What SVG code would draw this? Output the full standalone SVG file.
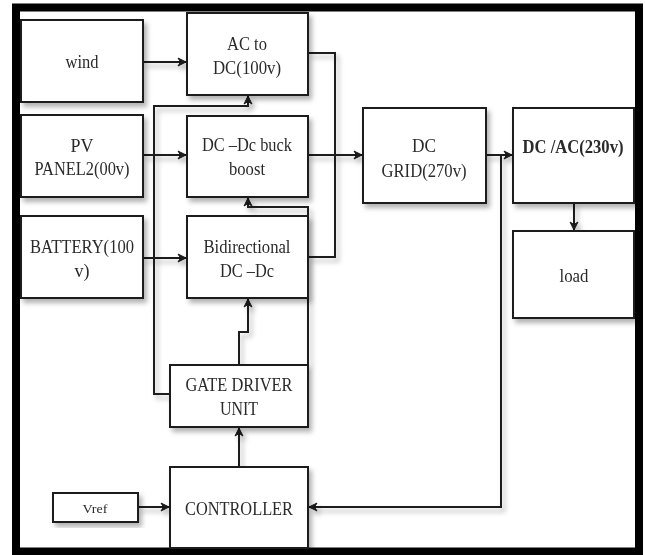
<svg xmlns="http://www.w3.org/2000/svg" width="645" height="555" viewBox="0 0 645 555">
<defs>
<style>
.box{fill:#fff;stroke:#1a1a1a;stroke-width:2}
.t{font-family:"Liberation Serif","Times New Roman",serif;font-size:18px;fill:#2a2a2a;text-anchor:middle}
.c{fill:none;stroke:#1a1a1a;stroke-width:2}
</style>
<filter id="sh" x="-10%" y="-10%" width="130%" height="130%">
<feDropShadow dx="3" dy="4" stdDeviation="2.5" flood-color="#000" flood-opacity="0.3"/>
</filter>
<marker id="a" viewBox="0 0 10 10" refX="9" refY="5" markerWidth="10" markerHeight="10" markerUnits="userSpaceOnUse" orient="auto">
<path d="M1,1 L9,5 L1,9 L3.5,5 z" fill="#1a1a1a" stroke="#1a1a1a" stroke-width="1" stroke-linejoin="round"/>
</marker>
</defs>
<rect x="0" y="0" width="645" height="555" fill="#fff"/>
<rect x="16" y="7.5" width="623" height="544" fill="#fff" stroke="#000" stroke-width="8"/>

<g id="connectors" filter="url(#sh)">
<path class="c" d="M143,62 H186" marker-end="url(#a)"/>
<path class="c" d="M143,155 H186" marker-end="url(#a)"/>
<path class="c" d="M143,258 H186" marker-end="url(#a)"/>
<path class="c" d="M308,53 H335 V257 H308"/>
<path class="c" d="M308,155 H362" marker-end="url(#a)"/>
<path class="c" d="M486,155 H512" marker-end="url(#a)"/>
<path class="c" d="M501,155 V507 H309" marker-end="url(#a)"/>
<path class="c" d="M574,203 V230" marker-end="url(#a)"/>
<path class="c" d="M138,507 H169" marker-end="url(#a)"/>
<path class="c" d="M239,467 V428" marker-end="url(#a)"/>
<path class="c" d="M239,365 V332 H248 V299" marker-end="url(#a)"/>
<path class="c" d="M170,394 H154 V106 H248 V96" marker-end="url(#a)"/>
<path class="c" d="M308,365 V207 H248 V198" marker-end="url(#a)"/>
</g>

<g id="wind" filter="url(#sh)"><rect class="box" x="21" y="20" width="122" height="82"/><text class="t" x="82" y="68" textLength="33" lengthAdjust="spacingAndGlyphs">wind</text></g>
<g id="pv" filter="url(#sh)"><rect class="box" x="21" y="115" width="122" height="82"/><text class="t" x="82" y="152" textLength="23" lengthAdjust="spacingAndGlyphs">PV</text><text class="t" x="82" y="175" textLength="95" lengthAdjust="spacingAndGlyphs">PANEL2(00v)</text></g>
<g id="battery" filter="url(#sh)"><rect class="box" x="21" y="216" width="122" height="82"/><text class="t" x="82" y="253" textLength="104" lengthAdjust="spacingAndGlyphs">BATTERY(100</text><text class="t" x="82" y="277" textLength="15" lengthAdjust="spacingAndGlyphs">v)</text></g>
<g id="acdc" filter="url(#sh)"><rect class="box" x="187" y="13" width="121" height="82"/><text class="t" x="247" y="50" textLength="40" lengthAdjust="spacingAndGlyphs">AC to</text><text class="t" x="247" y="74" textLength="68" lengthAdjust="spacingAndGlyphs">DC(100v)</text></g>
<g id="buckboost" filter="url(#sh)"><rect class="box" x="187" y="116" width="121" height="81"/><text class="t" x="247" y="151" textLength="90" lengthAdjust="spacingAndGlyphs">DC –Dc buck</text><text class="t" x="247" y="175" textLength="36" lengthAdjust="spacingAndGlyphs">boost</text></g>
<g id="bidir" filter="url(#sh)"><rect class="box" x="187" y="216" width="121" height="82"/><text class="t" x="247" y="253" textLength="87" lengthAdjust="spacingAndGlyphs">Bidirectional</text><text class="t" x="247" y="277" textLength="54" lengthAdjust="spacingAndGlyphs">DC –Dc</text></g>
<g id="gatedriver" filter="url(#sh)"><rect class="box" x="170" y="365" width="138" height="62"/><text class="t" x="239" y="391" textLength="107" lengthAdjust="spacingAndGlyphs">GATE DRIVER</text><text class="t" x="239" y="415" textLength="38" lengthAdjust="spacingAndGlyphs">UNIT</text></g>
<g id="controller" filter="url(#sh)"><rect class="box" x="170" y="467" width="138" height="81"/><text class="t" x="239" y="515" textLength="108" lengthAdjust="spacingAndGlyphs">CONTROLLER</text></g>
<g id="vref" filter="url(#sh)"><rect class="box" x="53" y="493" width="85" height="29"/><text class="t" x="95" y="513" style="font-size:13px" textLength="25" lengthAdjust="spacingAndGlyphs">Vref</text></g>
<g id="dcgrid" filter="url(#sh)"><rect class="box" x="363" y="108" width="123" height="95"/><text class="t" x="424" y="152" textLength="24" lengthAdjust="spacingAndGlyphs">DC</text><text class="t" x="424" y="177" textLength="85" lengthAdjust="spacingAndGlyphs">GRID(270v)</text></g>
<g id="dcac" filter="url(#sh)"><rect class="box" x="513" y="108" width="121" height="95"/><text class="t" x="573" y="153" style="font-weight:bold" textLength="101" lengthAdjust="spacingAndGlyphs">DC /AC(230v)</text></g>
<g id="load" filter="url(#sh)"><rect class="box" x="513" y="231" width="121" height="87"/><text class="t" x="574" y="282" textLength="29" lengthAdjust="spacingAndGlyphs">load</text></g>
</svg>
